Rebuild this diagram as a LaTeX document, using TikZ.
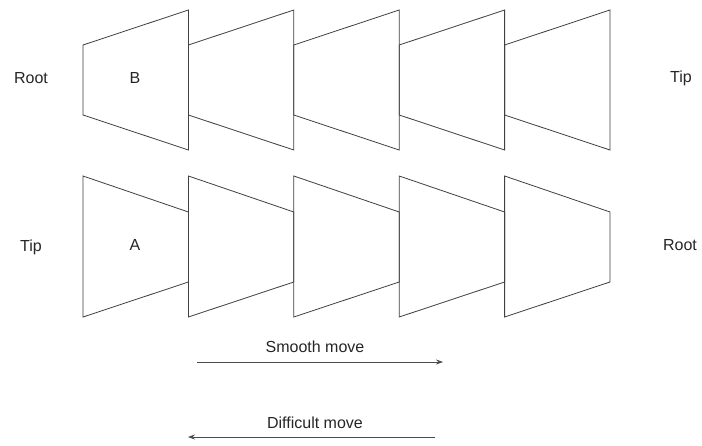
\documentclass[tikz,border=0pt]{standalone}
\usepackage{fontspec}
\setmainfont{Liberation Sans}
\usetikzlibrary{arrows.meta}
\begin{document}
\begin{tikzpicture}[x=1pt,y=-1pt,
  trap/.style={draw=black!75, line width=0.8pt, line join=miter},
  lbl/.style={font=\fontsize{16}{19}\selectfont, text=black!85, inner sep=0pt},
  mv/.style={draw=black!70, line width=0.7pt, -{Stealth[length=7pt,width=5pt]}}]
\useasboundingbox (0,0) rectangle (702,446);
\fill[white] (0,0) rectangle (702,446);
\foreach \i in {0,...,4} {
  \pgfmathsetmacro\xa{83+105.4*\i}
  \pgfmathsetmacro\xb{83+105.4*(\i+1)}
  \draw[trap] (\xa,45) -- (\xb,10) -- (\xb,150) -- (\xa,115) -- cycle;
  \draw[trap] (\xa,176) -- (\xb,212) -- (\xb,282) -- (\xa,317) -- cycle;
}
\node[lbl] (rootL) at (31,78) {Root};
\node[lbl] (tipL) at (31,247) {Tip};
\node[lbl] (tipR) at (681,78) {Tip};
\node[lbl] (rootR) at (680,245) {Root};
\node[lbl] (B) at (135,78) {B};
\node[lbl] (A) at (135,245) {A};
\node[lbl] (smooth) at (315,347) {Smooth move};
\node[lbl] (difficult) at (315,423) {Difficult move};
\coordinate (s1) at (197,362);
\coordinate (s2) at (443,362);
\coordinate (d1) at (435,437);
\coordinate (d2) at (188,437);
\draw[mv] (s1) -- (s2);
\draw[mv] (d1) -- (d2);
\end{tikzpicture}
\end{document}
